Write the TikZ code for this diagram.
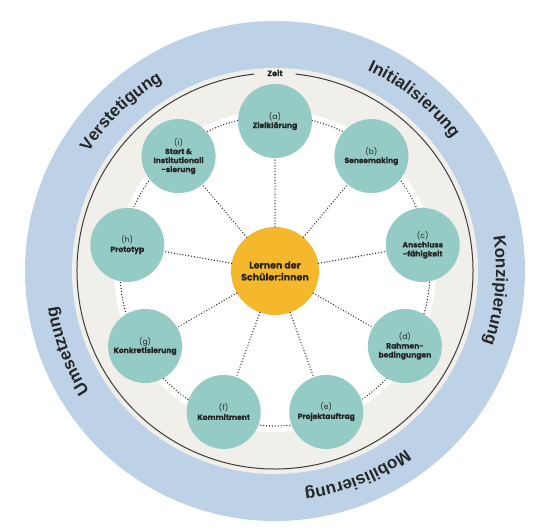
\documentclass[tikz,border=0pt]{standalone}
\usepackage{fontspec}
\setmainfont{Liberation Sans}
\newfontfamily\nodefont{Poppins}[BoldFeatures={FakeBold=0.5}]
\usetikzlibrary{decorations.text}
\definecolor{ringblue}{HTML}{BDD2E6}
\definecolor{beigering}{HTML}{F1EFEA}
\definecolor{tealnode}{HTML}{95CBC5}
\definecolor{orangenode}{HTML}{F5B82C}
\definecolor{txtdark}{HTML}{262626}
\newcommand\ringfont{\fontsize{17}{17}\selectfont\bfseries}
\tikzset{
  phase/.style={circle, fill=tealnode, minimum size=74pt, inner sep=0pt, align=center,
    text=txtdark, font=\nodefont\bfseries\fontsize{7.6}{9}\selectfont},
  hub/.style={circle, fill=orangenode, minimum size=88pt, inner sep=0pt, align=center,
    text=txtdark, font=\nodefont\bfseries\fontsize{9.5}{12}\selectfont},
  dotline/.style={draw=txtdark, line width=1.4pt, line cap=round, dash pattern=on 0pt off 2.9pt},
  timeline/.style={draw=txtdark!90, line width=1pt},
  ringlabel/.style={decorate, decoration={text along path, text align=center, text color=txtdark}}
}
\begin{document}
\begin{tikzpicture}[x=1pt,y=1pt]
\useasboundingbox (0,0) rectangle (547,531);
\coordinate (C) at (275,260);
\fill[ringblue] (C) circle[radius=250];
\fill[beigering] (C) circle[radius=203];
\fill[white] (C) circle[radius=161];
% time line
\draw[timeline] ([shift={(96:198)}]C) arc[start angle=96, end angle=444, radius=198];
\node[font=\nodefont\bfseries\fontsize{8}{8}\selectfont, text=txtdark, inner sep=1pt] (zeit) at ([shift={(0,198)}]C) {Zeit};
% dotted ring
\draw[dotline] (C) circle[radius=155];
% nodes
\node[hub] (hub) at (C) {Lernen der\\Schüler:innen};
\node[phase] (a) at ([shift={(90:150)}]C) {\mdseries(a)\\Zielklärung};
\node[phase] (b) at ([shift={(50:150)}]C) {\mdseries(b)\\Sensemaking};
\node[phase] (c) at ([shift={(10:150)}]C) {\mdseries(c)\\Anschluss\\-fähigkeit};
\node[phase] (d) at ([shift={(-30:150)}]C) {\mdseries(d)\\Rahmen-\\bedingungen};
\node[phase] (e) at ([shift={(-70:150)}]C) {\mdseries(e)\\Projektauftrag};
\node[phase] (f) at ([shift={(-110:150)}]C) {\mdseries(f)\\Kommitment};
\node[phase] (g) at ([shift={(-150:150)}]C) {\mdseries(g)\\Konkretisierung};
\node[phase] (h) at ([shift={(170:150)}]C) {\mdseries(h)\\Prototyp};
\node[phase] (i) at ([shift={(130:150)}]C) {\mdseries(i)\\Start \&\\Institutionali\\-sierung};
\foreach \n in {a,b,c,d,e,f,g,h,i} \draw[dotline] (hub) -- (\n);
% outer ring labels
\path[ringlabel, decoration={text={|\ringfont|Initialisierung}}] ([shift={(91:221)}]C) arc[start angle=91, end angle=11, radius=221];
\path[ringlabel, decoration={text={|\ringfont|Konzipierung}}] ([shift={(35:221)}]C) arc[start angle=35, end angle=-45, radius=221];
\path[ringlabel, decoration={text={|\ringfont|Mobilisierung}}] ([shift={(-28:221)}]C) arc[start angle=-28, end angle=-108, radius=221];
\path[ringlabel, decoration={text={|\ringfont|Umsetzung}}] ([shift={(241:221)}]C) arc[start angle=241, end angle=161, radius=221];
\path[ringlabel, decoration={text={|\ringfont|Verstetigung}}] ([shift={(174:221)}]C) arc[start angle=174, end angle=94, radius=221];
\end{tikzpicture}
\end{document}
